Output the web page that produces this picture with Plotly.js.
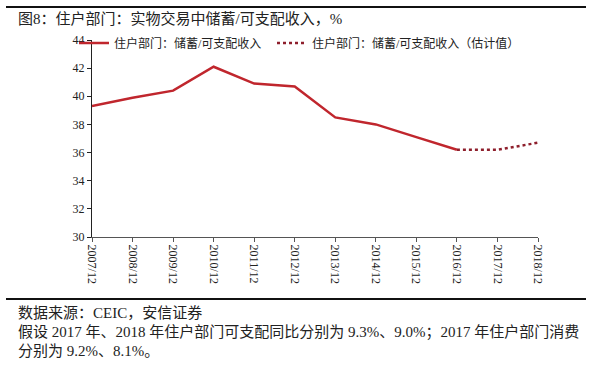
<!DOCTYPE html>
<html>
<head>
<meta charset="utf-8">
<script src="https://cdn.plot.ly/plotly-3.0.1.min.js"></script>
<style>html,body{margin:0;padding:0;background:#fff;}#chart{width:600px;height:379px;}</style>
</head>
<body>
<div id="chart"></div>
<script>
const categories = ["2007/12","2008/12","2009/12","2010/12","2011/12","2012/12","2013/12","2014/12","2015/12","2016/12","2017/12","2018/12"];
const actualValues = [39.3, 39.9, 40.4, 42.1, 40.9, 40.7, 38.5, 38.0, 37.1, 36.2, null, null];
const estimateValues = [null, null, null, null, null, null, null, null, null, 36.2, 36.2, 36.7];
const seriesNames = ["住户部门：储蓄/可支配收入", "住户部门：储蓄/可支配收入（估计值）"];
const yTicks = [30, 32, 34, 36, 38, 40, 42, 44];
const titleText = "图8：住户部门：实物交易中储蓄/可支配收入，%";
const noteLines = [
  "数据来源：CEIC，安信证券",
  "假设 2017 年、2018 年住户部门可支配同比分别为 9.3%、9.0%；2017 年住户部门消费",
  "分别为 9.2%、8.1%。"
];

const FONT = "'Liberation Serif', 'Noto Sans CJK SC', serif";
const CJK = "'Liberation Serif', 'Noto Sans CJK SC', serif";

const W = 600, H = 379;
const L = 92, R = 62, T = 40, B = 142;
const pw = W - L - R, ph = H - T - B;
const px = x => (x - L) / pw;
const py = y => (H - B - y) / ph;

const traces = [
  {
    x: categories, y: actualValues, name: seriesNames[0], type: 'scatter', mode: 'lines',
    line: {color: '#c0262d', width: 2.5}, connectgaps: false, legend: 'legend'
  },
  {
    x: categories, y: estimateValues, name: seriesNames[1], type: 'scatter', mode: 'lines',
    line: {color: '#8e1f2c', width: 2.5, dash: 'dot'}, connectgaps: false, legend: 'legend2'
  }
];

const annotations = [
  {text: titleText, xref: 'paper', yref: 'paper', x: px(16), y: py(18), xanchor: 'left', yanchor: 'middle',
   showarrow: false, font: {family: CJK, size: 15, color: '#222'}}
];
const noteY = [313, 332, 351];
noteLines.forEach((t, i) => annotations.push({
  text: t, xref: 'paper', yref: 'paper', x: px(16), y: py(noteY[i]), xanchor: 'left', yanchor: 'middle',
  showarrow: false, font: {family: CJK, size: 15, color: '#222'}
}));

const legendBase = {orientation: 'h', xanchor: 'left', yanchor: 'middle',
  bgcolor: 'rgba(0,0,0,0)', font: {family: CJK, size: 12, color: '#222'}};

const layout = {
  width: W, height: H,
  margin: {l: L, r: R, t: T, b: B, pad: 0},
  paper_bgcolor: '#fff', plot_bgcolor: '#fff',
  font: {family: FONT, size: 12, color: '#222'},
  showlegend: true,
  legend: Object.assign({}, legendBase, {x: px(74), y: py(43)}),
  legend2: Object.assign({}, legendBase, {x: px(272), y: py(43)}),
  xaxis: {
    type: 'category', categoryorder: 'array', categoryarray: categories,
    range: [0, categories.length - 1],
    showgrid: false, zeroline: false, showline: true, linecolor: '#555', linewidth: 1.2,
    ticks: 'outside', ticklen: 4, tickcolor: '#555', tickangle: 90,
    tickfont: {family: FONT, size: 12, color: '#222'}
  },
  yaxis: {
    range: [30, 44], tickvals: yTicks, ticktext: yTicks.map(String),
    showgrid: false, zeroline: false, showline: true, linecolor: '#222', linewidth: 1.2,
    ticks: 'outside', ticklen: 4, tickcolor: '#222',
    tickfont: {family: FONT, size: 12, color: '#222'}
  },
  shapes: [
    {type: 'line', xref: 'paper', yref: 'paper', x0: px(6), x1: px(586), y0: py(7), y1: py(7), line: {color: '#111', width: 2}},
    {type: 'line', xref: 'paper', yref: 'paper', x0: px(6), x1: px(586), y0: py(299), y1: py(299), line: {color: '#111', width: 2}}
  ],
  annotations: annotations
};

Plotly.newPlot('chart', traces, layout, {displayModeBar: false, staticPlot: true});
</script>
</body>
</html>
